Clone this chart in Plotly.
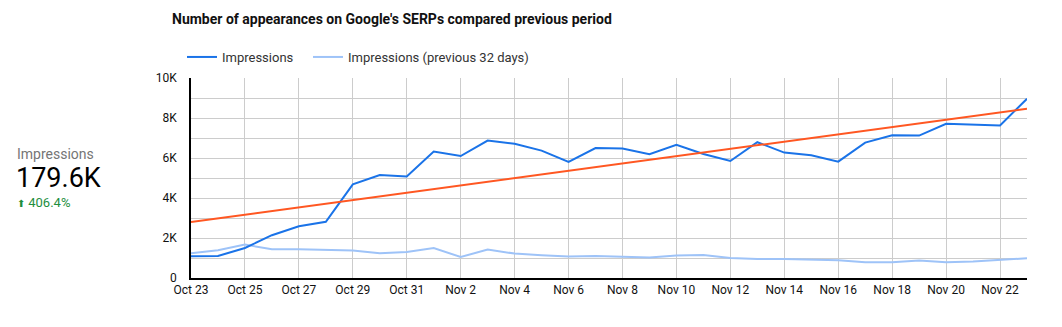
import numpy as np
import pandas as pd
import plotly.graph_objects as go

W, H = 1062, 327

dates = pd.date_range("2023-10-23", "2023-11-23", freq="D")
impressions = [1090, 1100, 1500, 2140, 2590, 2810, 4680, 5150, 5070, 6320, 6100, 6870,
               6710, 6370, 5800, 6500, 6470, 6190, 6660, 6200, 5850, 6790, 6270, 6140,
               5820, 6770, 7140, 7120, 7710, 7660, 7630, 8960]
impressions_prev = [1240, 1390, 1670, 1440, 1440, 1390, 1370, 1240, 1300, 1500, 1050, 1420,
                    1220, 1140, 1070, 1100, 1050, 1020, 1120, 1150, 1000, 950, 950, 920,
                    890, 790, 790, 870, 790, 820, 900, 990]
y_tick_vals = [0, 2000, 4000, 6000, 8000, 10000]
y_tick_text = ["0", "2K", "4K", "6K", "8K", "10K"]

series_names = ["Impressions", "Impressions (previous 32 days)"]
scorecard_label = "Impressions"
scorecard_value = "179.6K"
scorecard_delta = "406.4%"
title = "Number of appearances on Google's SERPs compared previous period"

BLUE = "#1a73e8"
LIGHT = "#9ec3f8"
TREND = "#ff5722"

# linear trendline of the current-period series
xi = np.arange(len(impressions))
slope, intercept = np.polyfit(xi, impressions, 1)
trend = slope * xi + intercept

ML, MR, MT, MB = 191, 35, 78, 49
PW = W - ML - MR
PH = H - MT - MB


def px_x(px):
    return (px - ML) / PW


def px_y(py):
    return 1 - (py - MT) / PH


fig = go.Figure()
fig.add_trace(go.Scatter(x=dates, y=impressions_prev, mode="lines", name=series_names[1],
                         line=dict(color=LIGHT, width=2)))
fig.add_trace(go.Scatter(x=dates, y=impressions, mode="lines",
                         name=series_names[0] + "\u00a0" * 3,
                         line=dict(color=BLUE, width=2)))
fig.add_trace(go.Scatter(x=dates, y=trend, mode="lines", showlegend=False,
                         line=dict(color=TREND, width=2)))

tick_dates = dates[::2]
fig.update_xaxes(
    range=[dates[0], dates[-1]],
    tickvals=tick_dates,
    tickformat="%b %-d",
    showgrid=True, gridcolor="#cccccc", gridwidth=1,
    showline=True, linecolor="#000000", linewidth=1.5,
    ticks="", tickfont=dict(family="Roboto", size=12, color="#111111"),
    zeroline=False,
)
fig.update_yaxes(
    range=[0, 10000],
    tickvals=y_tick_vals, ticktext=y_tick_text,
    showgrid=True, gridcolor="#cccccc", gridwidth=1,
    minor=dict(dtick=1000, showgrid=True, gridcolor="#cccccc", gridwidth=1),
    showline=True, linecolor="#000000", linewidth=1.5,
    ticks="", ticklabelstandoff=10,
    tickfont=dict(family="Roboto", size=12, color="#111111"),
    zeroline=False,
)

fig.update_layout(
    width=W, height=H,
    margin=dict(l=ML, r=MR, t=MT, b=MB),
    paper_bgcolor="white", plot_bgcolor="white",
    font=dict(family="Roboto", size=12, color="#222222"),
    legend=dict(orientation="h", x=px_x(182), y=px_y(57), xanchor="left", yanchor="middle",
                traceorder="reversed",
                font=dict(family="Roboto", size=13, color="#333333"),
                itemwidth=30,
                bgcolor="rgba(0,0,0,0)"),
    showlegend=True,
    annotations=[
        dict(text="<b>" + title + "</b>", xref="paper", yref="paper", x=px_x(170), y=px_y(19),
             xanchor="left", yanchor="middle", showarrow=False,
             font=dict(family="Roboto", size=14, color="#111111")),
        dict(text=scorecard_label, xref="paper", yref="paper", x=px_x(15), y=px_y(154),
             xanchor="left", yanchor="middle", showarrow=False,
             font=dict(family="Roboto", size=14, color="#757575")),
        dict(text=scorecard_value, xref="paper", yref="paper", x=px_x(14), y=px_y(178),
             xanchor="left", yanchor="middle", showarrow=False,
             font=dict(family="Roboto", size=27, color="#000000")),
        dict(text="<span style='font-size:10px'>⬆</span> " + scorecard_delta,
             xref="paper", yref="paper", x=px_x(15), y=px_y(202),
             xanchor="left", yanchor="middle", showarrow=False,
             font=dict(family="Roboto", size=13, color="#1e8e3e")),
    ],
)

fig.write_html("out.html")
